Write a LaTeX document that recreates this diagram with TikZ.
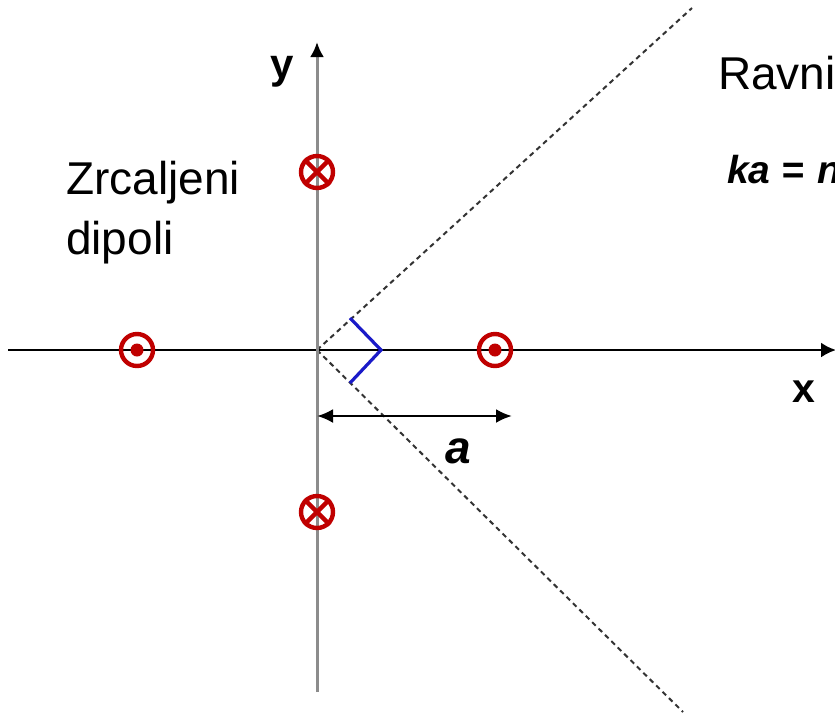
\documentclass[tikz,border=0pt]{standalone}
\usepackage{fontspec}
\setmainfont{Liberation Sans}
\usetikzlibrary{arrows.meta}
\definecolor{dred}{HTML}{C00000}
\definecolor{axgray}{HTML}{8C8C8C}
\definecolor{dblue}{HTML}{1A1AC8}
\tikzset{
  dip/.style={circle,draw=dred,line width=4.4pt,minimum size=32pt,inner sep=0pt},
  planeline/.style={draw=black!80,line width=2pt,dash pattern=on 5pt off 4pt},
  lbl/.style={inner sep=0pt,anchor=base west},
}
\begin{document}
\begin{tikzpicture}[x=1pt,y=-1pt]
\useasboundingbox[fill=white] (0,0) rectangle (835,716);
\coordinate (O) at (317,350);
\coordinate (xl) at (8,350);
\coordinate (xr) at (836,350);
\coordinate (yb) at (317,692);
\coordinate (yt) at (317,42);
\coordinate (pt) at (692,8);
\coordinate (pb) at (683,712);
% dashed plane lines
\draw[planeline] (O) -- (pt);
\draw[planeline] (O) -- (pb);
% axes
\draw[line width=2.4pt,-{Latex[length=15pt,width=15pt]}] (xl) -- (xr);
\draw[axgray,line width=3pt,-{Latex[length=15pt,width=14pt,color=black]}] (yb) -- (yt);
% blue chevron
\coordinate (c1) at (350,318);
\coordinate (c2) at (381,350);
\coordinate (c3) at (350,383);
\draw[dblue,line width=3.2pt] (c1) -- (c2) -- (c3);
% dipoles
\node[dip] (dl) at (137,350) {};
\node[dip] (dr) at (495,350) {};
\fill[dred] (dl.center) circle (6.5pt);
\fill[dred] (dr.center) circle (6.5pt);
\node[dip] (du) at (317,172) {};
\node[dip] (dd) at (317,512) {};
\foreach \n in {du,dd}{
  \draw[dred,line width=4.4pt] (\n.45) -- (\n.225);
  \draw[dred,line width=4.4pt] (\n.135) -- (\n.315);
}
% distance a
\coordinate (a1) at (317,416);
\coordinate (a2) at (512,416);
\draw[line width=2.6pt,{Latex[length=16pt,width=14pt]}-{Latex[length=16pt,width=14pt]}] (a1) -- (a2);
\node[lbl] (la) at (445,463) {\fontsize{46}{55}\selectfont\bfseries\itshape a};
% labels
\node[lbl] (ly) at (270,78) {\fontsize{42}{50}\selectfont\bfseries y};
\node[lbl] (lx) at (792,402) {\fontsize{41}{49}\selectfont\bfseries x};
\node[lbl] (z1) at (66,194) {\fontsize{46}{55}\selectfont Zrcaljeni};
\node[lbl] (z2) at (66,254) {\fontsize{46}{55}\selectfont dipoli};
\node[lbl] (rv) at (718,89) {\fontsize{46}{55}\selectfont Ravni};
\node[lbl] (ka) at (727,183) {\fontsize{39}{46}\selectfont\bfseries\itshape ka\kern11pt=\kern13pt n};
\end{tikzpicture}
\end{document}
